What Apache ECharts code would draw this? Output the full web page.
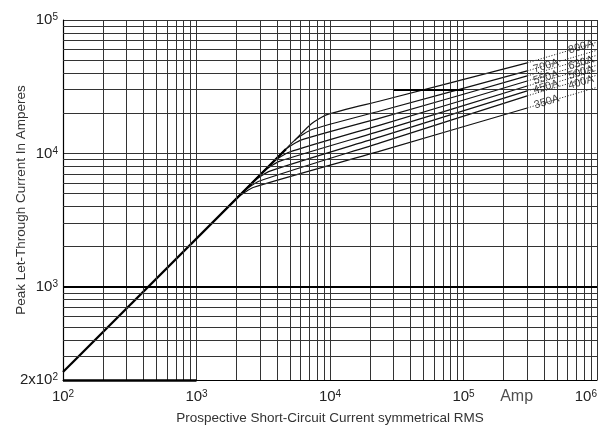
<!DOCTYPE html>
<html>
<head>
<meta charset="utf-8">
<script src="https://cdn.jsdelivr.net/npm/echarts@6/dist/echarts.min.js"></script>
<style>
html,body{margin:0;padding:0;background:#fff;}
#chart{width:604px;height:428px;}
</style>
</head>
<body>
<div id="chart"></div>
<script>
// ---- tick labels / grid values ----
const xDecades = [100, 1000, 10000, 100000, 1000000];
const yTicks = [200, 1000, 10000, 100000];
const xMinorGrid = [200,300,400,500,600,700,800,900,
  2000,3000,4000,5000,6000,7000,8000,9000,
  20000,30000,40000,50000,60000,70000,80000,90000,
  200000,300000,400000,500000,600000,700000,800000,900000];
const yMinorGrid = [300,400,500,600,700,800,900,
  2000,3000,4000,5000,6000,7000,8000,9000,
  20000,30000,40000,50000,60000,70000,80000,90000];

// ---- series values [prospective current, peak let-through] ----
const diagonal = [[100,230],[4680,10760]];
const fuse800 = [[5420,12470],[7260,16700],[9500,19530],[23700,24700],[300000,47700]];
const fuse700 = [[4190,9630],[5610,12900],[7340,15100],[23700,20800],[300000,41500]];
const fuse630 = [[3490,8030],[4680,10760],[6120,12620],[23700,18400],[300000,38070]];
const fuse550 = [[2810,6470],[3770,8670],[4930,10200],[23700,16300],[300000,34900]];
const fuse500 = [[2410,5540],[3220,7410],[4220,8740],[23700,14700],[300000,32000]];
const fuse450 = [[2030,4660],[2710,6240],[3550,7370],[23700,13300],[300000,29400]];
const fuse400 = [[1690,3890],[2270,5220],[2970,6210],[23700,12000],[300000,27000]];
const fuse350 = [[1530,3530],[2050,4720],[2690,5570],[23700,10400],[300000,21900]];

const fuseNames = ['800A','700A','630A','550A','500A','450A','400A','350A'];
const fuseData = [fuse800,fuse700,fuse630,fuse550,fuse500,fuse450,fuse400,fuse350];
const leaderEnds = [68200,59300,54400,49900,45800,42000,38600,31300];
const labelPos = [[759000,62800],[415000,45230],[759000,47640],[415000,37100],
                  [759000,40440],[415000,31480],[759000,34020],[420000,24310]];

const ampLabel = [[250000,200]];

const chart = echarts.init(document.getElementById('chart'));
const FONT = 'Liberation Sans, Arial, sans-serif';
const sup = {
  b:{fontSize:15,fontFamily:FONT,color:'#222'},
  s:{fontSize:10,fontFamily:FONT,color:'#222',verticalAlign:'top'}
};
const gridStyle = {color:'#333',width:1,type:'solid'};

const series = [];
series.push({
  type:'line', data:[], z:1, silent:true, animation:false,
  markLine:{
    silent:true, symbol:'none', animation:false,
    label:{show:false}, lineStyle:gridStyle,
    emphasis:{disabled:true},
    data: xMinorGrid.map(v=>({xAxis:v})).concat(yMinorGrid.map(v=>({yAxis:v})))
      .concat([{yAxis:1000, lineStyle:{color:'#000',width:2}}])
      .concat([[{coord:[100,200],lineStyle:{color:'#000',width:2.5}},{coord:[1000,200]}]])
      .concat([[{coord:[30000,30000],lineStyle:{color:'#000',width:2}},{coord:[100000,30000]}]])
  }
});
series.push({
  type:'line', data:diagonal, z:4, symbol:'none', silent:true, animation:false,
  lineStyle:{color:'#000',width:2.2}
});
fuseData.forEach((d,i)=>{
  series.push({
    type:'line', name:fuseNames[i], data:d, z:3, symbol:'none', smooth:0.2,
    silent:true, animation:false, lineStyle:{color:'#111',width:1.2}
  });
  series.push({
    type:'line', data:[[300000,d[d.length-1][1]],[1000000,leaderEnds[i]]], z:3, symbol:'none',
    silent:true, animation:false, lineStyle:{color:'#333',width:1,type:[1.2,1.6]}
  });
});
series.push({
  type:'scatter', symbolSize:0, z:6, silent:true, animation:false, clip:false,
  data: labelPos.map((p,i)=>({value:p, name:fuseNames[i]})),
  label:{show:true, position:'inside', formatter:'{b}', rotate:17,
    fontSize:11, fontFamily:'Liberation Sans Narrow, Liberation Sans, sans-serif', color:'#111'}
});
series.push({
  type:'scatter', symbolSize:0, z:6, silent:true, animation:false, clip:false,
  data: ampLabel.map(p=>({value:p, name:'Amp'})),
  label:{show:true, position:'bottom', distance:9, formatter:'{b}',
    fontSize:16, fontFamily:FONT, color:'#222'}
});

chart.setOption({
  animation:false,
  backgroundColor:'#fff',
  grid:{left:63,right:7,top:20,bottom:48,containLabel:false,outerBoundsMode:'none'},
  xAxis:{
    type:'log', logBase:10, min:xDecades[0], max:xDecades[xDecades.length-1],
    name:'Prospective Short-Circuit Current symmetrical RMS',
    nameLocation:'middle', nameGap:31, nameMoveOverlap:false,
    nameTextStyle:{fontSize:13.5,fontFamily:FONT,color:'#333'},
    axisLine:{show:true,lineStyle:{color:'#000',width:1.2}},
    axisTick:{show:false},
    splitLine:{show:true,lineStyle:gridStyle},
    axisLabel:{margin:9, rich:sup, alignMaxLabel:'right',
      formatter:v=>{const e=Math.round(Math.log10(v));return '{b|10}{s|'+e+'}';}}
  },
  yAxis:{
    type:'log', logBase:10, min:yTicks[0], max:yTicks[yTicks.length-1],
    name:'Peak Let-Through Current In Amperes',
    nameLocation:'middle', nameGap:35, nameMoveOverlap:false,
    nameTextStyle:{fontSize:13.5,fontFamily:FONT,color:'#333'},
    axisLine:{show:true,lineStyle:{color:'#000',width:1.2}},
    axisTick:{show:false},
    splitLine:{show:true,lineStyle:gridStyle},
    axisLabel:{margin:5, rich:sup,
      formatter:v=>{
        const r=Math.round(v);
        if (Math.abs(r-200)<1) return '{b|2x10}{s|2}';
        const e=Math.round(Math.log10(v));return '{b|10}{s|'+e+'}';}}
  },
  series:series
});
</script>
</body>
</html>
